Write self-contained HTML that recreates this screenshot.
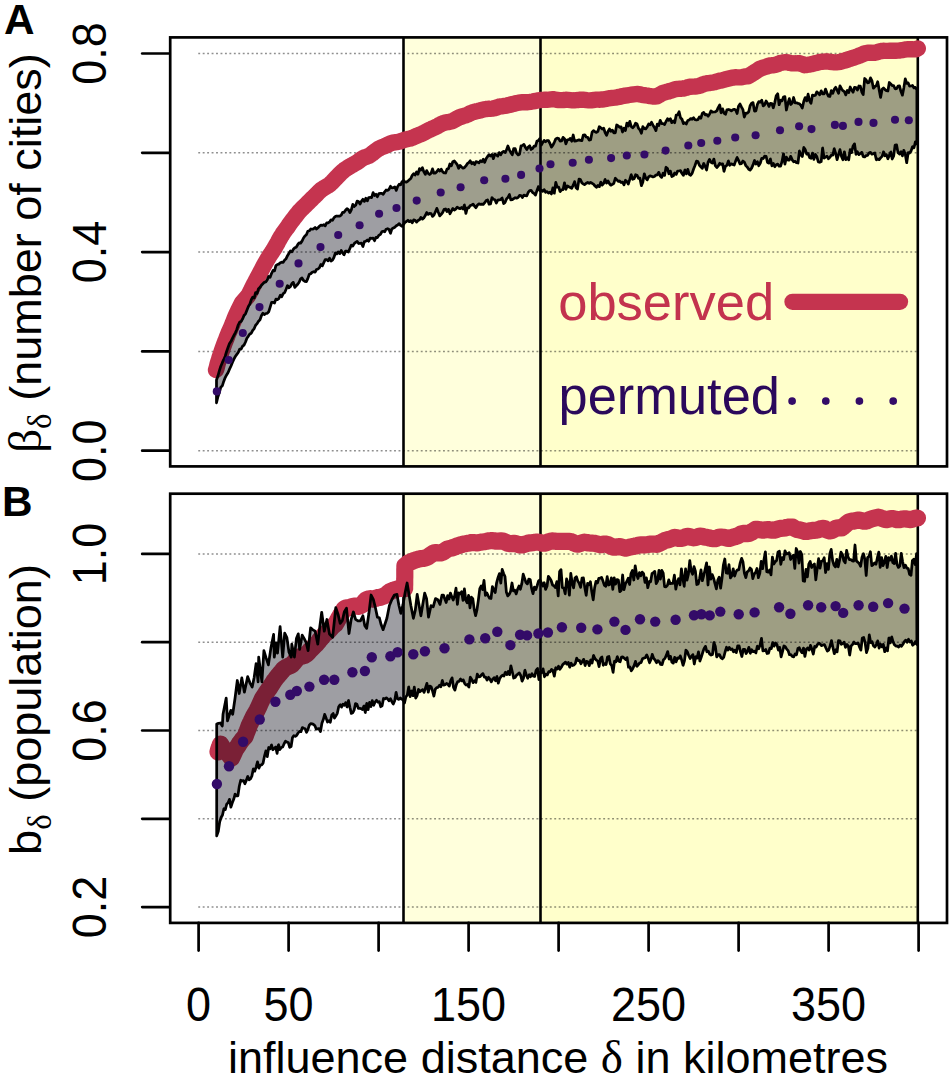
<!DOCTYPE html>
<html><head><meta charset="utf-8"><title>Figure</title>
<style>
html,body{margin:0;padding:0;background:#fff;}
body{width:951px;height:1078px;overflow:hidden;}
svg{display:block;}
text{font-family:"Liberation Sans",sans-serif;}
.sym{font-family:"Liberation Serif",serif;}
</style></head>
<body>
<svg width="951" height="1078" viewBox="0 0 951 1078">
<rect x="0" y="0" width="951" height="1078" fill="#ffffff"/>
<g id="panelA">
<rect x="403.5" y="37.4" width="514.3" height="429.0" fill="#ffffdc"/>
<rect x="540.5" y="37.4" width="377.3" height="429.0" fill="#ffffcb"/>
<line x1="198.25" y1="450.7" x2="917.8" y2="450.7" stroke="rgba(0,0,0,0.44)" stroke-width="1.5" stroke-dasharray="1.9 2.55"/>
<line x1="198.25" y1="351.4" x2="917.8" y2="351.4" stroke="rgba(0,0,0,0.44)" stroke-width="1.5" stroke-dasharray="1.9 2.55"/>
<line x1="198.25" y1="252.1" x2="917.8" y2="252.1" stroke="rgba(0,0,0,0.44)" stroke-width="1.5" stroke-dasharray="1.9 2.55"/>
<line x1="198.25" y1="152.8" x2="917.8" y2="152.8" stroke="rgba(0,0,0,0.44)" stroke-width="1.5" stroke-dasharray="1.9 2.55"/>
<line x1="198.25" y1="53.5" x2="917.8" y2="53.5" stroke="rgba(0,0,0,0.44)" stroke-width="1.5" stroke-dasharray="1.9 2.55"/>
<line x1="403.5" y1="37.4" x2="403.5" y2="466.4" stroke="#000" stroke-width="2.6"/>
<line x1="540.5" y1="37.4" x2="540.5" y2="466.4" stroke="#000" stroke-width="2.6"/>
<line x1="917.8" y1="37.4" x2="917.8" y2="466.4" stroke="#000" stroke-width="2.6"/>
<polyline points="216.0,370.0 216.6,368.2 217.1,366.1 217.6,364.0 218.2,361.9 218.9,359.9 219.5,357.8 220.2,355.8 220.9,353.8 221.5,351.7 222.2,349.7 222.9,347.7 223.6,345.8 224.3,343.9 225.0,342.0 225.8,340.1 226.5,338.3 227.2,336.4 227.9,334.6 228.6,332.9 229.4,331.1 230.2,329.3 231.0,327.5 231.8,325.7 232.5,323.8 233.3,321.9 234.1,319.9 234.9,317.9 235.7,315.9 236.6,313.9 237.5,312.0 238.4,310.1 239.3,308.2 240.2,306.4 241.1,304.6 242.0,302.9 243.3,301.4 244.6,299.9 245.9,298.4 247.2,296.9 248.5,295.2 249.5,293.3 250.5,291.4 251.4,289.5 252.4,287.5 253.4,285.5 254.4,283.5 255.3,281.8 256.2,280.1 257.1,278.3 258.0,276.7 258.9,275.0 259.8,273.3 260.7,271.6 261.7,269.7 262.6,267.9 263.6,266.1 264.6,264.3 265.5,262.6 266.5,260.9 267.5,259.2 268.5,257.6 269.4,256.0 270.4,254.5 271.5,252.9 272.5,251.3 273.6,249.7 274.7,247.9 275.7,246.1 276.8,244.2 277.9,242.2 278.9,240.2 280.0,238.2 281.1,236.4 282.2,234.7 283.2,233.0 284.3,231.5 285.4,230.0 286.5,228.5 287.6,227.1 288.6,225.5 289.7,223.9 290.8,222.3 292.1,220.7 293.4,219.0 294.7,217.2 296.1,215.5 297.4,213.8 298.7,212.2 300.0,210.7 301.4,209.3 302.8,207.9 304.2,206.5 305.6,205.2 307.0,203.8 308.4,202.4 309.8,201.0 311.2,199.6 312.9,197.9 314.7,196.2 316.3,194.6 317.9,193.0 319.4,191.4 321.0,189.9 322.7,188.8 324.4,187.7 326.1,186.8 327.8,185.8 329.5,184.7 330.9,183.3 332.4,181.9 333.8,180.4 335.2,178.9 336.7,177.4 338.1,175.9 339.6,174.4 341.0,172.9 342.6,171.5 344.2,170.1 345.8,169.0 347.3,168.0 348.9,167.0 350.4,166.1 352.0,165.2 353.7,164.3 355.4,163.3 357.2,162.2 358.9,161.1 360.4,159.8 362.0,158.7 363.7,157.8 365.3,157.1 367.0,156.6 368.6,155.9 370.3,155.0 371.9,153.8 373.6,152.4 375.3,151.1 377.0,149.9 378.6,148.8 380.3,147.9 382.0,147.1 384.1,146.3 386.3,145.4 388.4,144.3 390.6,143.4 392.9,142.7 394.7,142.4 396.4,142.1 398.2,141.8 400.0,141.4 401.8,140.8 403.5,140.2 405.2,139.7 407.0,139.2 408.8,138.8 410.5,138.4 412.2,137.8 414.0,137.1 415.8,136.3 417.5,135.5 419.2,134.8 421.0,134.2 422.8,133.3 424.5,132.4 426.2,131.5 428.0,130.6 429.8,129.8 431.5,128.9 433.6,128.0 435.8,127.0 437.9,125.9 440.0,124.7 442.1,123.6 443.7,123.0 445.4,122.6 447.0,122.2 448.9,122.0 450.7,121.6 452.6,121.1 454.7,119.8 456.8,118.6 458.4,117.8 460.0,117.1 461.5,116.6 463.1,116.1 464.6,115.7 466.0,115.3 467.9,114.5 469.8,113.5 471.7,112.6 473.6,111.9 475.7,111.4 477.8,111.0 479.9,110.5 482.0,109.9 484.1,109.3 486.1,109.0 488.0,108.8 490.0,108.8 492.3,108.6 494.6,108.2 496.4,107.6 498.2,107.0 500.0,106.4 502.6,106.2 504.7,105.9 506.8,105.6 508.9,105.1 511.0,104.5 513.1,103.9 515.2,103.4 517.2,103.0 519.1,102.7 521.0,102.4 523.0,102.1 525.5,102.2 527.9,102.2 530.2,101.9 532.5,101.5 534.5,101.1 536.5,100.7 538.5,100.3 540.5,100.0 542.6,99.9 544.7,99.8 546.8,99.8 548.9,99.6 551.0,99.4 553.1,99.2 555.1,99.5 557.0,99.8 559.0,100.1 561.0,100.1 563.4,100.0 565.7,99.8 568.0,99.9 570.4,100.1 572.4,100.3 574.3,100.4 576.3,100.2 578.3,100.0 580.4,99.7 582.5,99.6 584.6,99.9 586.7,100.2 588.8,100.4 590.9,100.4 592.7,100.1 594.5,99.8 596.4,99.6 598.2,99.6 600.0,99.7 602.0,99.5 604.0,99.3 605.9,98.9 607.9,98.5 610.2,98.1 612.6,97.8 614.8,97.6 617.0,97.3 619.0,96.9 621.1,96.4 623.2,96.0 625.2,95.6 627.3,95.3 629.4,95.0 631.5,94.7 633.7,94.4 635.8,94.2 637.9,94.0 639.9,94.4 641.8,94.8 643.8,95.1 645.7,95.4 648.1,95.7 650.5,96.2 652.6,96.5 654.7,96.6 656.8,96.4 658.9,95.2 661.0,93.9 663.1,92.8 664.9,92.3 666.7,91.8 668.5,91.4 670.3,90.8 672.1,90.3 673.9,89.7 675.7,89.2 677.7,88.9 679.7,88.8 681.6,88.7 683.6,88.5 686.0,87.9 688.3,87.1 690.6,86.7 693.0,86.6 695.0,86.5 697.0,86.3 698.9,85.9 700.9,85.3 702.7,84.5 704.5,83.8 706.4,83.4 708.2,83.1 710.0,83.0 712.1,82.7 714.2,82.3 716.3,81.7 718.4,81.1 720.5,80.6 722.6,80.2 724.7,79.6 726.8,79.1 728.9,78.6 731.0,78.1 733.1,77.6 735.2,77.2 736.9,77.4 738.7,77.4 740.4,77.4 742.3,77.1 744.1,76.7 746.0,76.4 747.9,76.3 749.7,75.3 751.5,74.2 753.3,73.1 755.1,71.9 756.9,70.7 758.7,69.5 760.5,68.5 762.4,67.9 764.3,67.3 766.2,66.7 768.1,66.0 770.0,65.5 771.5,65.3 773.1,65.3 774.8,64.9 776.5,64.5 778.3,63.9 780.0,63.1 781.9,62.7 783.8,62.3 785.7,62.1 787.9,62.4 790.0,63.0 792.1,63.3 794.1,63.4 796.2,63.3 798.3,63.1 800.4,63.6 802.5,64.3 804.6,65.2 806.7,65.0 808.8,64.7 810.9,64.3 812.7,63.8 814.5,63.3 816.4,62.9 818.2,62.5 820.0,61.9 822.0,61.8 824.0,61.6 826.0,61.4 828.0,61.5 830.0,61.8 832.6,62.2 834.5,62.4 836.3,62.3 838.1,62.1 840.0,61.8 841.7,61.3 843.5,60.8 845.2,60.4 847.6,59.6 850.0,58.8 852.0,58.2 854.0,57.6 855.9,56.9 857.9,56.2 859.7,55.5 861.5,54.7 863.3,53.9 865.1,53.3 866.9,52.9 868.7,52.7 870.5,52.7 872.4,52.9 874.3,52.8 876.2,52.5 878.1,51.9 880.0,51.3 881.5,51.0 883.1,50.8 885.4,50.9 887.7,50.9 890.0,50.8 891.9,50.7 893.8,50.7 895.7,50.7 897.9,50.6 900.0,50.5 902.1,50.2 904.1,49.8 906.2,49.4 908.3,49.2 910.2,49.2 912.1,49.3 914.0,49.4 915.9,49.3 917.8,48.4" fill="none" stroke="#c5344f" stroke-width="16.4" stroke-linecap="round" stroke-linejoin="round"/>
<polygon points="216.5,380.0 217.9,376.0 219.4,370.6 220.8,366.2 222.3,362.7 223.7,359.7 225.2,356.2 226.6,351.5 228.1,347.3 229.5,343.5 231.0,341.3 232.4,338.3 233.9,335.4 235.3,332.8 236.8,329.5 238.2,325.0 239.7,322.0 241.1,321.5 242.6,318.9 244.0,315.5 245.5,313.8 246.9,310.2 248.4,306.4 249.8,304.1 251.3,299.7 252.7,297.2 254.2,297.9 255.6,292.6 257.1,293.3 258.5,288.7 260.0,287.4 261.4,285.2 262.9,283.7 264.3,282.3 265.8,281.9 267.2,279.9 268.7,276.4 270.1,277.3 271.6,273.3 273.0,270.5 274.5,270.9 275.9,265.6 277.4,264.5 278.8,264.1 280.3,262.8 281.7,262.2 283.2,262.4 284.6,260.1 286.1,258.7 287.5,255.7 289.0,253.2 290.4,251.0 291.9,251.8 293.3,249.3 294.8,247.8 296.2,247.2 297.7,244.7 299.1,242.9 300.6,243.1 302.0,241.1 303.5,238.0 304.9,236.0 306.4,234.7 307.8,231.3 309.3,230.8 310.7,229.0 312.2,229.1 313.6,228.8 315.1,227.5 316.5,229.0 318.0,227.7 319.4,226.3 320.9,225.1 322.3,225.4 323.8,224.7 325.2,225.8 326.7,222.9 328.1,222.9 329.6,221.9 331.0,219.8 332.5,220.3 333.9,217.8 335.4,216.4 336.8,216.0 338.3,216.1 339.7,216.2 341.2,215.2 342.6,212.4 344.1,212.3 345.5,210.3 347.0,208.7 348.4,209.7 349.9,212.6 351.3,209.8 352.8,204.4 354.2,206.5 355.7,205.3 357.1,201.2 358.6,201.6 360.0,204.1 361.5,201.1 362.9,199.3 364.4,201.3 365.8,198.3 367.3,200.9 368.7,197.5 370.2,197.4 371.6,197.6 373.1,192.6 374.5,195.5 376.0,194.3 377.4,196.8 378.9,193.5 380.3,193.3 381.8,193.4 383.2,194.3 384.7,191.8 386.1,190.0 387.6,190.3 389.0,189.3 390.5,186.3 391.9,187.9 393.4,187.7 394.8,186.9 396.3,190.4 397.7,186.4 399.2,184.2 400.6,184.8 402.1,181.7 403.5,180.4 405.0,182.0 406.4,182.2 407.9,181.1 409.3,179.7 410.8,178.5 412.2,175.4 413.7,173.7 415.1,175.0 416.6,171.9 418.0,174.2 419.5,168.6 420.9,170.1 422.4,167.7 423.8,171.7 425.3,174.4 426.7,170.6 428.2,173.4 429.6,174.5 431.1,173.2 432.5,168.9 434.0,173.2 435.4,173.1 436.9,171.5 438.3,169.5 439.8,171.1 441.2,169.2 442.7,171.9 444.1,172.9 445.6,173.0 447.0,169.1 448.5,168.7 449.9,164.0 451.4,165.8 452.8,161.7 454.3,161.0 455.7,162.6 457.2,164.6 458.6,168.3 460.1,165.4 461.5,167.0 463.0,168.1 464.4,167.6 465.9,165.9 467.3,163.7 468.8,162.6 470.2,160.8 471.7,163.7 473.1,162.4 474.6,164.6 476.0,161.7 477.5,162.1 478.9,162.9 480.4,160.8 481.8,161.7 483.3,159.3 484.7,162.3 486.2,158.5 487.6,156.5 489.1,154.7 490.5,156.1 492.0,154.5 493.4,158.7 494.9,153.9 496.3,155.0 497.8,156.1 499.2,152.6 500.7,154.8 502.1,152.4 503.6,151.3 505.0,152.5 506.5,149.9 507.9,146.0 509.4,149.8 510.8,152.4 512.3,154.8 513.7,148.6 515.2,148.6 516.6,153.1 518.1,154.9 519.5,154.2 521.0,145.9 522.4,145.5 523.9,144.4 525.3,147.2 526.8,149.5 528.2,147.0 529.7,145.8 531.1,149.5 532.6,148.4 534.0,146.2 535.5,146.1 536.9,141.3 538.4,140.5 539.8,138.7 541.3,145.0 542.7,142.5 544.2,140.4 545.6,141.7 547.1,140.5 548.5,140.7 550.0,143.5 551.4,147.1 552.9,145.1 554.3,142.3 555.8,138.9 557.2,138.1 558.7,138.5 560.1,141.1 561.6,140.9 563.0,137.4 564.5,138.7 565.9,143.8 567.4,139.8 568.8,139.7 570.3,138.4 571.7,141.2 573.2,135.0 574.6,141.2 576.1,140.9 577.5,140.3 579.0,139.9 580.4,140.4 581.9,140.7 583.3,135.0 584.8,134.8 586.2,137.0 587.7,137.4 589.2,140.1 590.6,139.7 592.1,132.2 593.5,130.6 595.0,131.8 596.4,132.4 597.9,131.3 599.3,126.7 600.8,127.8 602.2,129.0 603.7,128.3 605.1,132.5 606.6,135.3 608.0,131.5 609.5,129.0 610.9,131.3 612.4,130.1 613.8,132.8 615.3,132.8 616.7,125.0 618.2,126.0 619.6,127.4 621.1,126.9 622.5,132.0 624.0,128.2 625.4,130.6 626.9,123.1 628.3,126.0 629.8,121.4 631.2,126.4 632.7,127.8 634.1,126.3 635.6,123.2 637.0,124.0 638.5,128.3 639.9,129.7 641.4,133.2 642.8,126.7 644.3,128.6 645.7,128.8 647.2,126.8 648.6,124.0 650.1,124.9 651.5,122.3 653.0,125.2 654.4,127.5 655.9,130.6 657.3,124.1 658.8,125.5 660.2,120.3 661.7,123.6 663.1,123.6 664.6,124.5 666.0,121.5 667.5,118.8 668.9,120.3 670.4,118.8 671.8,122.7 673.3,120.9 674.7,122.7 676.2,115.1 677.6,114.9 679.1,111.8 680.5,117.7 682.0,119.3 683.4,123.6 684.9,122.7 686.3,124.0 687.8,120.5 689.2,120.0 690.7,118.6 692.1,119.3 693.6,117.8 695.0,119.7 696.5,120.0 697.9,119.7 699.4,116.9 700.8,118.3 702.3,113.3 703.7,112.4 705.2,114.9 706.6,114.5 708.1,116.2 709.5,114.2 711.0,110.9 712.4,112.1 713.9,112.0 715.3,111.8 716.8,110.9 718.2,107.6 719.7,104.9 721.1,112.8 722.6,108.9 724.0,113.1 725.5,114.3 726.9,109.9 728.4,109.5 729.8,109.9 731.3,110.9 732.7,109.8 734.2,109.3 735.6,110.0 737.1,113.5 738.5,106.3 740.0,104.0 741.4,106.9 742.9,109.6 744.3,117.1 745.8,113.2 747.2,113.2 748.7,111.8 750.1,105.7 751.6,103.2 753.0,102.6 754.5,111.1 755.9,110.8 757.4,104.4 758.8,101.6 760.3,102.2 761.7,100.2 763.2,105.9 764.6,104.8 766.1,101.0 767.5,103.2 769.0,106.4 770.4,103.3 771.9,103.5 773.3,107.8 774.8,102.3 776.2,95.9 777.7,93.8 779.1,104.7 780.6,100.2 782.0,100.9 783.5,97.1 784.9,96.6 786.4,110.0 787.8,103.9 789.3,98.6 790.7,104.5 792.2,103.0 793.6,97.5 795.1,102.9 796.5,102.8 798.0,103.4 799.4,103.8 800.9,105.4 802.3,108.0 803.8,101.3 805.2,97.6 806.7,100.9 808.1,94.2 809.6,100.8 811.0,103.2 812.5,95.1 813.9,95.7 815.4,95.2 816.8,91.8 818.3,93.2 819.7,94.7 821.2,90.8 822.6,93.8 824.1,93.9 825.5,89.1 827.0,93.1 828.4,96.1 829.9,96.5 831.3,90.6 832.8,93.4 834.2,89.4 835.7,87.3 837.1,90.2 838.6,93.3 840.0,85.8 841.5,88.7 842.9,90.7 844.4,91.7 845.8,94.9 847.3,90.5 848.7,92.6 850.2,87.0 851.6,90.0 853.1,92.2 854.5,87.4 856.0,87.7 857.4,90.1 858.9,86.0 860.3,86.1 861.8,92.0 863.2,94.5 864.7,78.5 866.1,80.0 867.6,82.8 869.0,82.5 870.5,77.9 871.9,80.6 873.4,88.2 874.8,86.7 876.3,85.6 877.7,81.7 879.2,89.9 880.6,97.4 882.1,89.2 883.5,87.9 885.0,89.6 886.4,90.7 887.9,91.0 889.3,82.5 890.8,83.9 892.2,85.6 893.7,85.7 895.1,88.8 896.6,88.7 898.0,86.2 899.5,85.9 900.9,91.3 902.4,95.2 903.8,87.9 905.3,78.8 906.7,83.4 908.2,83.0 909.6,86.2 911.1,86.0 912.5,85.5 914.0,87.9 915.4,87.4 916.9,89.7 916.9,143.9 915.4,141.9 914.0,147.8 912.5,146.7 911.1,150.9 909.6,153.0 908.2,152.6 906.7,162.7 905.3,154.4 903.8,150.3 902.4,155.9 900.9,151.7 899.5,154.0 898.0,152.7 896.6,144.9 895.1,145.2 893.7,155.9 892.2,159.0 890.8,152.0 889.3,155.4 887.9,158.7 886.4,154.6 885.0,155.8 883.5,151.8 882.1,156.4 880.6,157.9 879.2,159.7 877.7,159.0 876.3,159.7 874.8,153.0 873.4,153.6 871.9,154.1 870.5,152.3 869.0,153.0 867.6,155.4 866.1,155.6 864.7,156.9 863.2,156.6 861.8,152.3 860.3,153.5 858.9,154.6 857.4,151.8 856.0,154.3 854.5,143.8 853.1,145.9 851.6,152.6 850.2,149.6 848.7,159.8 847.3,157.8 845.8,159.6 844.4,151.8 842.9,159.8 841.5,156.4 840.0,149.7 838.6,154.4 837.1,159.7 835.7,153.7 834.2,148.7 832.8,155.2 831.3,155.2 829.9,157.3 828.4,158.7 827.0,156.2 825.5,157.1 824.1,158.0 822.6,148.0 821.2,161.5 819.7,162.3 818.3,161.9 816.8,156.5 815.4,154.5 813.9,159.4 812.5,153.1 811.0,158.3 809.6,157.5 808.1,153.6 806.7,154.1 805.2,149.5 803.8,147.4 802.3,156.5 800.9,154.9 799.4,151.0 798.0,163.0 796.5,162.7 795.1,161.3 793.6,161.8 792.2,159.9 790.7,156.3 789.3,160.0 787.8,160.0 786.4,157.1 784.9,164.1 783.5,153.8 782.0,161.7 780.6,166.1 779.1,166.1 777.7,164.1 776.2,164.7 774.8,166.7 773.3,163.4 771.9,165.8 770.4,159.0 769.0,163.1 767.5,162.5 766.1,156.3 764.6,156.2 763.2,158.5 761.7,158.3 760.3,163.0 758.8,165.7 757.4,161.7 755.9,164.1 754.5,160.5 753.0,164.9 751.6,168.1 750.1,170.1 748.7,169.3 747.2,167.0 745.8,165.6 744.3,162.0 742.9,161.0 741.4,163.6 740.0,163.9 738.5,160.4 737.1,157.5 735.6,161.1 734.2,165.0 732.7,164.4 731.3,163.8 729.8,165.2 728.4,161.0 726.9,165.4 725.5,166.2 724.0,171.3 722.6,163.8 721.1,164.3 719.7,163.3 718.2,166.0 716.8,167.5 715.3,165.6 713.9,159.1 712.4,163.1 711.0,162.3 709.5,159.5 708.1,162.1 706.6,170.1 705.2,166.6 703.7,163.4 702.3,168.4 700.8,166.8 699.4,165.3 697.9,161.5 696.5,161.1 695.0,165.5 693.6,169.0 692.1,173.4 690.7,175.2 689.2,174.3 687.8,169.4 686.3,173.9 684.9,170.0 683.4,175.3 682.0,173.5 680.5,170.6 679.1,171.0 677.6,171.1 676.2,174.4 674.7,172.9 673.3,175.8 671.8,176.5 670.4,171.1 668.9,173.8 667.5,168.5 666.0,167.3 664.6,175.4 663.1,173.2 661.7,177.4 660.2,176.0 658.8,172.3 657.3,174.8 655.9,175.1 654.4,176.5 653.0,176.9 651.5,176.2 650.1,175.8 648.6,176.9 647.2,179.8 645.7,177.9 644.3,173.8 642.8,182.2 641.4,185.7 639.9,178.2 638.5,178.3 637.0,175.2 635.6,174.7 634.1,178.8 632.7,179.3 631.2,174.7 629.8,179.3 628.3,184.0 626.9,181.5 625.4,180.3 624.0,184.9 622.5,182.1 621.1,182.5 619.6,181.0 618.2,181.4 616.7,179.7 615.3,178.3 613.8,183.4 612.4,184.4 610.9,185.2 609.5,183.7 608.0,180.9 606.6,183.1 605.1,179.5 603.7,183.4 602.2,185.1 600.8,182.2 599.3,186.7 597.9,185.5 596.4,187.3 595.0,186.0 593.5,184.2 592.1,183.3 590.6,182.5 589.2,183.3 587.7,182.5 586.2,183.3 584.8,184.6 583.3,184.0 581.9,182.9 580.4,179.6 579.0,179.1 577.5,189.1 576.1,187.8 574.6,181.7 573.2,185.2 571.7,188.3 570.3,187.5 568.8,186.7 567.4,185.9 565.9,189.3 564.5,182.9 563.0,189.7 561.6,189.8 560.1,191.5 558.7,187.1 557.2,187.1 555.8,182.3 554.3,193.2 552.9,187.8 551.4,194.0 550.0,192.2 548.5,193.1 547.1,191.6 545.6,192.3 544.2,189.7 542.7,191.3 541.3,190.2 539.8,190.6 538.4,186.6 536.9,190.7 535.5,195.2 534.0,193.4 532.6,192.5 531.1,190.4 529.7,190.5 528.2,192.4 526.8,195.8 525.3,195.7 523.9,195.1 522.4,197.5 521.0,195.6 519.5,195.4 518.1,197.5 516.6,198.1 515.2,197.7 513.7,198.6 512.3,199.7 510.8,199.9 509.4,194.5 507.9,197.5 506.5,198.9 505.0,202.6 503.6,203.5 502.1,198.0 500.7,199.6 499.2,199.9 497.8,200.2 496.3,203.0 494.9,199.8 493.4,199.3 492.0,197.6 490.5,203.9 489.1,204.2 487.6,199.9 486.2,200.5 484.7,202.7 483.3,204.4 481.8,204.2 480.4,204.4 478.9,203.9 477.5,205.0 476.0,207.7 474.6,206.2 473.1,204.1 471.7,205.2 470.2,205.5 468.8,207.8 467.3,207.9 465.9,213.4 464.4,205.0 463.0,209.0 461.5,207.5 460.1,208.6 458.6,208.1 457.2,207.2 455.7,209.1 454.3,210.1 452.8,208.5 451.4,211.1 449.9,213.7 448.5,209.3 447.0,211.6 445.6,209.0 444.1,209.3 442.7,212.3 441.2,214.3 439.8,215.9 438.3,212.2 436.9,208.4 435.4,211.7 434.0,215.0 432.5,216.4 431.1,213.5 429.6,213.3 428.2,214.4 426.7,212.5 425.3,215.6 423.8,217.9 422.4,219.1 420.9,217.4 419.5,219.7 418.0,220.5 416.6,222.1 415.1,220.3 413.7,219.9 412.2,222.8 410.8,220.8 409.3,221.7 407.9,220.3 406.4,221.5 405.0,222.4 403.5,224.4 402.1,226.3 400.6,225.4 399.2,223.6 397.7,225.0 396.3,225.8 394.8,227.2 393.4,228.0 391.9,228.9 390.5,233.3 389.0,229.5 387.6,228.7 386.1,229.2 384.7,231.8 383.2,231.2 381.8,231.8 380.3,234.6 378.9,235.2 377.4,237.6 376.0,237.3 374.5,240.7 373.1,238.1 371.6,238.3 370.2,238.2 368.7,241.2 367.3,240.0 365.8,241.2 364.4,241.6 362.9,246.5 361.5,243.2 360.0,243.3 358.6,243.5 357.1,241.4 355.7,242.3 354.2,243.6 352.8,246.0 351.3,245.1 349.9,248.5 348.4,252.0 347.0,251.2 345.5,251.1 344.1,254.8 342.6,252.8 341.2,250.5 339.7,253.6 338.3,251.9 336.8,253.8 335.4,253.0 333.9,257.5 332.5,260.1 331.0,261.0 329.6,258.3 328.1,260.9 326.7,259.6 325.2,259.7 323.8,262.6 322.3,265.8 320.9,264.4 319.4,267.8 318.0,269.0 316.5,269.5 315.1,272.2 313.6,271.7 312.2,272.2 310.7,273.8 309.3,274.2 307.8,278.6 306.4,281.7 304.9,281.4 303.5,280.4 302.0,278.0 300.6,278.9 299.1,282.2 297.7,284.2 296.2,285.8 294.8,287.4 293.3,282.4 291.9,283.6 290.4,286.5 289.0,287.8 287.5,285.6 286.1,289.3 284.6,292.7 283.2,293.6 281.7,296.7 280.3,295.3 278.8,298.6 277.4,299.6 275.9,299.1 274.5,303.0 273.0,302.3 271.6,302.3 270.1,307.3 268.7,311.8 267.2,313.4 265.8,313.5 264.3,314.6 262.9,313.3 261.4,315.8 260.0,319.7 258.5,321.2 257.1,323.6 255.6,325.2 254.2,328.6 252.7,330.4 251.3,333.2 249.8,334.0 248.4,336.1 246.9,338.2 245.5,342.0 244.0,345.1 242.6,346.2 241.1,349.1 239.7,349.1 238.2,352.5 236.8,354.4 235.3,356.5 233.9,359.1 232.4,362.4 231.0,366.0 229.5,369.2 228.1,372.5 226.6,374.9 225.2,377.6 223.7,381.4 222.3,385.8 220.8,387.2 219.4,392.5 217.9,396.7 216.5,402.8" fill="rgba(0,0,12,0.38)" stroke="#000" stroke-width="2.75" stroke-linejoin="round"/>
<g fill="#330b68"><circle cx="216.8" cy="391.4" r="4.05"/><circle cx="228.7" cy="360.0" r="4.05"/><circle cx="242.8" cy="333.0" r="4.05"/><circle cx="259.5" cy="307.1" r="4.05"/><circle cx="279.7" cy="283.7" r="4.05"/><circle cx="298.5" cy="263.4" r="4.05"/><circle cx="320.5" cy="247.1" r="4.05"/><circle cx="338.2" cy="235.0" r="4.05"/><circle cx="359.6" cy="225.2" r="4.05"/><circle cx="379.1" cy="213.8" r="4.05"/><circle cx="396.5" cy="208.0" r="4.05"/><circle cx="416.7" cy="200.6" r="4.05"/><circle cx="440.7" cy="192.5" r="4.05"/><circle cx="460.6" cy="187.2" r="4.05"/><circle cx="484.2" cy="180.2" r="4.05"/><circle cx="505.4" cy="178.7" r="4.05"/><circle cx="521.1" cy="174.9" r="4.05"/><circle cx="539.5" cy="168.5" r="4.05"/><circle cx="550.5" cy="164.3" r="4.05"/><circle cx="572.7" cy="162.8" r="4.05"/><circle cx="588.9" cy="159.7" r="4.05"/><circle cx="611.1" cy="158.1" r="4.05"/><circle cx="626.8" cy="155.5" r="4.05"/><circle cx="644.4" cy="154.5" r="4.05"/><circle cx="665.6" cy="150.6" r="4.05"/><circle cx="688.3" cy="145.5" r="4.05"/><circle cx="701.2" cy="143.0" r="4.05"/><circle cx="717.3" cy="140.7" r="4.05"/><circle cx="735.2" cy="137.5" r="4.05"/><circle cx="755.6" cy="135.3" r="4.05"/><circle cx="780.0" cy="130.3" r="4.05"/><circle cx="799.1" cy="126.3" r="4.05"/><circle cx="811.5" cy="129.1" r="4.05"/><circle cx="834.9" cy="124.9" r="4.05"/><circle cx="842.9" cy="125.9" r="4.05"/><circle cx="858.5" cy="121.9" r="4.05"/><circle cx="873.5" cy="122.9" r="4.05"/><circle cx="895.0" cy="119.7" r="4.05"/><circle cx="908.8" cy="120.3" r="4.05"/></g>
<rect x="170.2" y="37.4" width="776.8" height="429.0" fill="none" stroke="#000" stroke-width="2.7"/>
</g>
<g id="panelB">
<rect x="403.5" y="493.7" width="514.3" height="429.2" fill="#ffffdc"/>
<rect x="540.5" y="493.7" width="377.3" height="429.2" fill="#ffffcb"/>
<line x1="198.25" y1="907.1" x2="917.8" y2="907.1" stroke="rgba(0,0,0,0.44)" stroke-width="1.5" stroke-dasharray="1.9 2.55"/>
<line x1="198.25" y1="818.8" x2="917.8" y2="818.8" stroke="rgba(0,0,0,0.44)" stroke-width="1.5" stroke-dasharray="1.9 2.55"/>
<line x1="198.25" y1="730.5" x2="917.8" y2="730.5" stroke="rgba(0,0,0,0.44)" stroke-width="1.5" stroke-dasharray="1.9 2.55"/>
<line x1="198.25" y1="642.2" x2="917.8" y2="642.2" stroke="rgba(0,0,0,0.44)" stroke-width="1.5" stroke-dasharray="1.9 2.55"/>
<line x1="198.25" y1="553.9" x2="917.8" y2="553.9" stroke="rgba(0,0,0,0.44)" stroke-width="1.5" stroke-dasharray="1.9 2.55"/>
<line x1="403.5" y1="493.7" x2="403.5" y2="922.9" stroke="#000" stroke-width="2.6"/>
<line x1="540.5" y1="493.7" x2="540.5" y2="922.9" stroke="#000" stroke-width="2.6"/>
<line x1="917.8" y1="493.7" x2="917.8" y2="922.9" stroke="#000" stroke-width="2.6"/>
<polyline points="218.0,752.0 218.6,749.4 219.2,747.6 219.9,745.9 220.5,744.2 221.9,746.4 223.2,748.5 224.6,750.2 226.0,751.8 227.4,753.1 228.8,754.6 230.1,756.3 231.5,758.2 232.3,756.5 233.1,754.8 233.9,753.1 234.7,751.3 235.5,749.5 236.8,747.6 238.2,745.6 239.5,743.4 240.9,741.5 242.2,739.7 243.6,738.1 245.0,736.6 245.7,734.8 246.4,732.9 247.2,731.0 247.9,729.1 248.6,727.2 249.3,725.3 250.1,723.6 251.0,721.8 251.8,720.0 252.7,718.3 253.5,716.5 254.4,715.0 255.3,713.5 256.2,711.9 257.1,710.2 258.0,708.4 258.9,706.5 259.8,704.5 260.6,702.6 261.5,700.7 262.4,698.8 263.3,697.2 264.3,695.7 265.2,694.3 266.1,693.0 267.1,691.6 268.0,690.2 269.1,688.7 270.1,687.2 271.1,685.5 272.2,683.8 273.2,682.2 274.3,680.5 275.5,679.0 276.6,677.5 277.8,676.1 279.0,674.6 280.4,673.0 281.8,671.4 283.2,669.6 284.6,668.4 286.1,667.4 287.6,666.7 289.0,666.0 290.5,665.5 292.0,664.5 293.5,662.9 295.0,661.1 296.5,659.2 298.0,657.7 299.5,656.8 301.0,656.3 302.5,656.0 303.9,655.6 305.4,654.9 306.9,653.9 308.4,652.2 309.9,650.4 311.5,648.8 313.0,647.3 314.4,645.9 315.9,644.5 317.4,642.9 318.8,641.2 319.9,639.7 321.1,638.3 322.2,637.0 323.4,635.7 324.5,634.3 326.3,632.9 328.2,631.3 330.0,629.4 331.3,627.9 332.6,626.5 334.0,625.3 335.3,624.3 336.2,622.7 337.2,621.1 338.1,619.4 339.1,617.7 340.0,616.1 341.0,614.3 342.1,612.6 343.1,610.9 344.1,609.2 346.0,607.9 348.0,607.9 350.0,607.4 352.0,606.7 354.0,606.0 356.0,606.0 358.0,606.3 360.0,605.8 362.0,604.8 363.3,603.1 364.7,601.4 366.0,600.0 367.5,599.3 369.0,598.9 370.5,598.6 373.0,599.1 375.5,598.5 377.2,597.8 378.9,597.3 380.6,597.3 382.4,596.6 384.2,595.9 386.0,594.8 387.6,593.6 389.1,592.3 390.7,591.2 392.6,590.5 394.4,589.9 396.3,589.2 398.6,588.6 401.0,588.2 402.8,588.4 404.6,588.7 404.6,586.7 404.7,584.8 404.7,582.9 404.7,581.0 404.7,579.1 404.8,577.2 404.8,575.3 404.8,573.4 404.8,571.5 404.8,569.5 404.9,567.6 404.9,565.7 406.6,564.5 408.3,563.0 410.2,562.2 412.2,561.3 414.7,560.3 416.5,559.7 418.2,559.2 420.0,558.8 421.7,558.5 423.5,558.4 425.5,557.9 427.5,557.2 429.5,555.8 431.3,554.5 433.2,553.3 435.0,552.6 436.9,552.6 438.7,553.0 440.5,553.0 442.4,552.4 444.2,551.3 446.0,550.0 447.7,549.0 449.5,548.5 451.2,548.1 453.0,547.6 455.0,546.9 456.9,546.0 458.9,545.4 461.1,544.8 463.3,544.0 465.5,543.8 467.8,543.2 470.0,542.9 471.8,542.5 473.6,542.6 475.7,542.8 477.8,542.8 479.9,542.4 482.0,542.0 484.1,541.8 486.3,541.4 488.4,540.9 490.3,540.7 492.3,540.7 494.2,540.8 496.4,541.2 498.6,541.1 500.9,540.9 503.1,541.1 506.0,542.4 508.0,543.3 509.9,543.7 511.9,543.6 513.9,543.4 515.8,543.6 517.8,544.3 520.0,545.0 522.2,545.0 524.5,544.3 526.7,543.6 528.4,543.1 530.0,542.9 531.7,542.8 533.3,542.6 535.0,542.3 536.9,542.1 538.9,542.3 540.8,542.8 542.8,543.2 544.7,543.2 546.6,542.7 548.4,541.9 550.3,541.2 552.1,540.9 554.0,541.0 555.8,541.3 557.7,541.4 559.5,541.4 561.3,541.4 563.1,541.4 564.9,541.4 566.7,541.3 568.6,541.3 570.5,541.5 572.3,542.1 574.2,543.1 576.1,543.9 578.0,544.1 580.2,543.5 582.4,542.6 584.5,542.2 586.7,542.5 588.9,543.0 591.0,543.2 593.1,543.2 595.2,543.4 597.3,544.0 599.4,544.6 601.5,544.7 603.6,544.2 605.5,544.1 607.4,544.4 609.4,545.3 611.3,546.3 613.2,547.1 615.1,547.2 616.8,546.9 618.4,546.7 620.2,546.7 622.0,547.1 623.9,547.7 625.7,548.2 627.6,547.7 629.4,547.2 631.2,546.8 633.1,546.4 635.2,546.1 637.2,545.6 639.3,545.0 641.4,544.8 643.5,544.9 645.7,544.8 647.8,544.5 649.6,544.2 651.4,544.2 653.3,544.1 655.1,544.2 657.0,544.3 658.8,543.7 660.7,542.7 662.5,541.7 664.7,540.6 666.8,540.0 669.0,539.5 670.9,538.9 672.8,538.1 674.7,537.4 676.8,537.8 678.9,538.4 681.0,538.5 683.2,537.9 685.3,536.9 687.4,536.4 689.5,536.6 691.6,537.4 693.7,537.8 695.8,537.5 697.9,536.7 700.0,536.2 702.1,536.3 704.2,536.9 706.0,537.2 707.9,537.6 709.7,538.0 711.5,538.5 713.4,538.7 715.2,538.6 717.0,538.1 718.9,537.3 721.0,537.0 723.0,537.2 725.1,537.7 727.1,538.2 729.2,538.5 730.8,537.9 732.4,537.3 734.0,536.9 735.8,536.5 737.5,535.9 739.2,535.0 741.0,534.0 743.0,533.4 745.0,533.4 747.0,533.6 749.1,533.4 751.1,532.5 753.1,531.0 755.7,529.4 757.7,529.3 759.7,529.8 761.7,530.1 763.7,530.1 765.7,529.7 768.1,529.5 770.5,529.9 772.5,530.2 774.4,530.1 776.3,529.6 778.3,528.9 780.6,528.4 782.9,528.2 785.2,527.9 787.0,527.4 788.9,527.1 790.7,527.0 792.5,527.1 794.8,528.5 797.0,529.5 798.9,529.8 800.9,530.2 802.8,530.8 804.7,531.5 806.6,531.5 808.5,531.1 810.5,530.7 812.4,530.4 814.3,530.3 816.2,530.2 817.9,529.8 819.5,529.1 821.4,528.5 823.2,528.4 825.1,528.9 826.9,529.9 828.8,530.8 830.6,530.9 832.4,530.3 834.2,529.3 836.0,528.3 837.9,527.8 839.7,527.8 841.5,528.0 843.0,526.9 844.5,525.6 846.0,524.2 847.5,523.0 848.9,522.0 851.5,521.2 853.5,521.1 855.5,520.6 857.5,520.2 859.6,520.2 861.6,520.6 863.6,521.1 865.2,521.2 866.7,520.9 868.7,520.1 870.6,519.3 872.5,518.6 874.5,518.1 876.5,517.6 878.4,517.2 880.5,517.8 882.6,518.7 884.7,519.4 886.8,519.6 888.9,519.1 891.0,518.6 893.1,518.7 895.0,519.1 896.9,519.6 898.8,519.7 900.7,519.4 902.6,519.0 904.5,518.8 906.1,518.9 907.8,519.3 909.7,519.6 911.7,519.4 913.6,518.7 915.6,518.0 917.5,518.0" fill="none" stroke="#c5344f" stroke-width="17.2" stroke-linecap="round" stroke-linejoin="round"/>
<polygon points="216.7,724.0 218.4,723.4 220.4,723.0 222.3,726.0 223.0,714.3 226.2,698.1 227.5,720.8 230.8,710.4 232.7,714.3 235.0,698.5 237.3,680.5 239.2,693.5 241.8,677.9 244.4,692.2 247.7,676.6 249.9,682.8 252.2,687.0 254.2,677.3 256.1,663.6 258.1,681.8 258.7,657.1 261.9,681.8 263.9,650.6 266.1,657.9 268.4,664.9 271.0,647.4 273.6,634.4 274.3,657.1 276.2,642.9 277.5,653.2 280.1,626.6 282.7,657.1 284.7,633.1 286.9,637.7 289.0,652.2 291.2,657.1 291.8,644.2 294.4,657.1 296.4,638.6 298.3,633.8 299.6,649.4 302.2,635.1 304.2,638.6 306.1,642.3 308.1,650.6 310.6,627.9 312.9,629.8 315.2,631.2 317.8,644.2 319.8,626.7 321.7,612.3 324.3,631.2 326.9,619.5 329.5,634.0 332.6,637.3 335.8,607.6 338.0,614.1 340.2,623.4 342.3,620.7 344.4,611.6 346.5,608.2 349.0,633.5 351.2,619.3 353.4,612.0 355.6,619.4 357.9,620.9 360.4,620.9 362.9,615.8 364.8,625.7 366.7,628.4 368.9,613.3 371.1,595.0 373.3,599.4 375.5,608.2 377.4,617.1 379.3,617.7 381.2,624.8 383.1,629.7 386.9,618.3 389.4,605.5 391.9,599.4 394.4,595.0 397.0,594.4 398.9,605.2 400.8,613.3 402.9,605.2 405.0,593.2 407.1,583.0 410.9,605.7 413.4,618.3 415.3,610.1 417.2,594.4 420.9,615.8 422.8,604.2 424.7,593.1 426.6,598.8 428.5,617.1 431.0,605.7 433.2,606.9 435.5,598.6 437.8,599.7 440.0,604.4 442.0,595.0 443.4,595.0 444.8,599.0 446.2,602.5 447.6,595.7 449.0,599.1 450.4,593.1 451.8,596.8 453.2,600.0 454.6,595.9 456.0,588.2 457.4,604.4 458.8,592.9 460.2,593.7 461.6,591.7 463.0,600.4 464.4,588.8 465.8,600.2 467.2,602.9 468.6,595.3 470.0,607.8 471.4,597.2 472.8,598.6 474.2,609.4 475.6,615.7 477.0,609.6 478.4,599.9 479.8,588.6 481.2,585.9 482.6,589.6 484.0,580.4 485.4,595.3 486.8,592.9 488.2,595.9 489.6,598.2 491.0,598.5 492.4,586.6 493.8,589.8 495.2,592.6 496.6,582.8 498.0,577.6 499.4,573.6 500.8,583.1 502.2,569.4 503.6,573.5 505.0,576.5 506.4,592.3 507.8,595.9 509.2,594.3 510.6,591.3 512.0,583.0 513.4,590.9 514.8,590.3 516.2,593.9 517.6,589.2 519.0,586.0 520.4,589.2 521.8,583.7 523.2,574.1 524.6,578.4 526.0,582.6 527.4,583.9 528.8,579.1 530.2,579.5 531.6,588.4 533.0,593.6 534.4,587.1 535.8,589.6 537.2,585.5 538.6,580.9 540.0,580.0 541.4,582.9 542.8,586.0 544.2,582.7 545.6,589.4 547.0,586.2 548.4,576.3 549.8,578.2 551.2,580.7 552.6,585.0 554.0,585.9 555.4,587.5 556.8,581.7 558.2,595.9 559.6,571.5 561.0,569.6 562.4,587.7 563.8,588.0 565.2,593.8 566.6,578.9 568.0,583.0 569.4,595.2 570.8,573.4 572.2,583.0 573.6,587.9 575.0,578.1 576.4,576.8 577.8,581.1 579.2,583.2 580.6,587.4 582.0,578.1 583.4,577.9 584.8,587.5 586.2,595.3 587.6,583.3 589.0,584.8 590.4,581.7 591.8,591.8 593.2,599.8 594.6,587.9 596.0,581.3 597.4,583.0 598.8,578.4 600.2,578.1 601.6,577.4 603.0,581.1 604.4,585.4 605.8,586.2 607.2,576.7 608.6,585.0 610.0,584.3 611.4,577.9 612.8,589.3 614.2,577.8 615.6,584.2 617.0,579.6 618.4,580.1 619.8,591.6 621.2,590.4 622.6,575.0 624.0,589.6 625.4,583.9 626.8,581.5 628.2,578.3 629.6,584.5 631.0,573.5 632.4,570.5 633.8,580.0 635.2,565.8 636.6,574.2 638.0,578.5 639.4,572.7 640.8,575.7 642.2,572.1 643.6,573.7 645.0,582.4 646.4,577.9 647.8,587.7 649.2,581.7 650.6,581.8 652.0,573.7 653.4,572.6 654.8,571.4 656.2,583.7 657.6,581.0 659.0,570.3 660.4,579.1 661.8,570.4 663.2,573.2 664.6,586.6 666.0,586.9 667.4,585.4 668.8,579.9 670.2,583.7 671.6,583.4 673.0,583.3 674.4,575.2 675.8,589.2 677.2,582.3 678.6,578.7 680.0,584.9 681.4,568.8 682.8,578.4 684.2,586.3 685.6,568.9 687.0,580.2 688.4,574.1 689.8,560.7 691.2,571.1 692.6,574.3 694.0,566.7 695.4,571.2 696.8,584.5 698.2,583.9 699.6,578.3 701.0,569.9 702.4,580.7 703.8,575.2 705.2,569.1 706.6,562.9 708.0,585.0 709.4,567.0 710.8,579.1 712.2,574.6 713.6,578.2 715.0,583.6 716.4,588.8 717.8,580.1 719.2,577.2 720.6,588.2 722.0,578.3 723.4,565.0 724.8,559.0 726.2,572.9 727.6,573.3 729.0,564.6 730.4,577.9 731.8,576.0 733.2,568.8 734.6,576.1 736.0,571.8 737.4,569.8 738.8,569.8 740.2,562.8 741.6,558.3 743.0,562.1 744.4,573.2 745.8,577.6 747.2,571.8 748.6,570.8 750.0,568.0 751.4,569.2 752.8,578.6 754.2,574.0 755.6,572.5 757.0,568.5 758.4,577.7 759.8,573.3 761.2,561.4 762.6,568.7 764.0,559.5 765.4,551.8 766.8,571.8 768.2,572.2 769.6,570.0 771.0,574.9 772.4,557.1 773.8,564.0 775.2,561.7 776.6,560.4 778.0,551.9 779.4,551.3 780.8,564.3 782.2,557.6 783.6,559.6 785.0,550.8 786.4,554.0 787.8,553.7 789.2,552.7 790.6,559.5 792.0,556.5 793.4,555.2 794.8,568.3 796.2,548.5 797.6,551.7 799.0,563.1 800.4,551.5 801.8,554.6 803.2,580.9 804.6,581.3 806.0,569.4 807.4,576.9 808.8,564.2 810.2,561.5 811.6,567.5 813.0,565.2 814.4,564.0 815.8,579.9 817.2,568.9 818.6,558.7 820.0,568.1 821.4,561.3 822.8,560.9 824.2,557.8 825.6,572.5 827.0,563.7 828.4,569.3 829.8,553.8 831.2,549.4 832.6,560.5 834.0,565.1 835.4,566.9 836.8,559.4 838.2,566.8 839.6,560.3 841.0,552.2 842.4,554.4 843.8,560.8 845.2,562.8 846.6,550.4 848.0,556.8 849.4,559.7 850.8,559.6 852.2,560.8 853.6,561.1 855.0,545.0 856.4,560.9 857.8,562.1 859.2,563.5 860.6,566.3 862.0,557.3 863.4,553.7 864.8,559.2 866.2,575.5 867.6,557.5 869.0,556.3 870.4,551.7 871.8,565.7 873.2,564.6 874.6,562.9 876.0,564.3 877.4,557.7 878.8,552.1 880.2,567.4 881.6,557.6 883.0,565.7 884.4,562.1 885.8,556.4 887.2,567.5 888.6,557.7 890.0,560.0 891.4,556.1 892.8,562.6 894.2,563.5 895.6,553.4 897.0,564.5 898.4,567.4 899.8,566.1 901.2,553.3 902.6,561.6 904.0,567.7 905.4,565.1 906.8,568.1 908.2,568.5 909.6,574.4 911.0,575.3 912.4,560.5 913.8,559.2 915.2,564.6 916.6,553.6 916.9,644.5 915.5,641.6 914.1,644.0 912.7,645.2 911.3,641.0 909.9,642.0 908.5,639.3 907.1,642.2 905.7,640.1 904.3,641.7 902.9,644.3 901.5,646.3 900.1,645.2 898.7,647.0 897.3,646.1 895.9,646.1 894.5,644.8 893.1,641.8 891.7,637.0 890.3,642.9 888.9,638.0 887.5,650.8 886.1,648.0 884.7,651.7 883.3,644.3 881.9,646.9 880.5,644.2 879.1,648.1 877.7,640.9 876.3,644.8 874.9,647.0 873.5,645.9 872.1,641.7 870.7,642.5 869.3,634.9 867.9,648.4 866.5,652.6 865.1,642.5 863.7,637.5 862.3,638.0 860.9,650.1 859.5,646.9 858.1,643.1 856.7,643.6 855.3,643.7 853.9,642.0 852.5,644.6 851.1,645.9 849.7,655.0 848.3,646.1 846.9,644.5 845.5,647.3 844.1,642.1 842.7,643.6 841.3,644.3 839.9,640.8 838.5,640.7 837.1,651.9 835.7,649.8 834.3,653.7 832.9,647.5 831.5,640.6 830.1,645.9 828.7,650.1 827.3,651.0 825.9,648.0 824.5,644.7 823.1,644.8 821.7,645.7 820.3,644.2 818.9,643.1 817.5,644.5 816.1,647.0 814.7,646.5 813.3,654.1 811.9,649.3 810.5,645.4 809.1,650.1 807.7,648.0 806.3,649.3 804.9,656.4 803.5,648.1 802.1,652.8 800.7,651.0 799.3,647.7 797.9,648.5 796.5,654.8 795.1,654.0 793.7,656.9 792.3,656.5 790.9,654.6 789.5,654.7 788.1,650.6 786.7,649.1 785.3,646.8 783.9,646.0 782.5,651.7 781.1,656.9 779.7,647.4 778.3,650.0 776.9,644.4 775.5,643.0 774.1,646.1 772.7,642.6 771.3,648.6 769.9,648.1 768.5,653.2 767.1,653.5 765.7,649.5 764.3,650.7 762.9,650.9 761.5,638.4 760.1,645.1 758.7,648.8 757.3,646.3 755.9,653.0 754.5,651.2 753.1,651.6 751.7,649.7 750.3,653.3 748.9,647.3 747.5,651.3 746.1,653.6 744.7,649.3 743.3,649.3 741.9,656.5 740.5,651.9 739.1,645.9 737.7,645.9 736.3,652.6 734.9,650.2 733.5,651.8 732.1,648.9 730.7,649.5 729.3,647.4 727.9,650.0 726.5,647.3 725.1,652.0 723.7,657.3 722.3,658.8 720.9,657.6 719.5,654.6 718.1,654.7 716.7,656.9 715.3,646.2 713.9,642.5 712.5,654.4 711.1,655.1 709.7,654.2 708.3,651.2 706.9,651.8 705.5,646.3 704.1,648.4 702.7,652.5 701.3,657.1 699.9,661.0 698.5,651.9 697.1,658.1 695.7,656.7 694.3,664.0 692.9,654.7 691.5,656.2 690.1,658.5 688.7,655.5 687.3,651.7 685.9,650.1 684.5,660.6 683.1,665.3 681.7,660.2 680.3,655.8 678.9,658.3 677.5,658.0 676.1,661.9 674.7,657.3 673.3,663.2 671.9,662.1 670.5,656.3 669.1,659.0 667.7,651.6 666.3,655.4 664.9,658.5 663.5,659.7 662.1,664.7 660.7,664.5 659.3,661.8 657.9,660.7 656.5,662.7 655.1,660.0 653.7,658.4 652.3,654.4 650.9,659.6 649.5,662.7 648.1,658.0 646.7,654.9 645.3,657.7 643.9,658.1 642.5,658.8 641.1,662.6 639.7,662.9 638.3,664.8 636.9,666.3 635.5,661.4 634.1,665.7 632.7,668.7 631.3,670.8 629.9,667.0 628.5,667.2 627.1,657.7 625.7,659.6 624.3,658.2 622.9,656.9 621.5,657.1 620.1,661.8 618.7,661.0 617.3,656.7 615.9,661.8 614.5,661.2 613.1,672.3 611.7,665.5 610.3,663.9 608.9,656.5 607.5,657.1 606.1,664.6 604.7,663.6 603.3,665.2 601.9,657.0 600.5,658.6 599.1,666.6 597.7,660.9 596.3,660.1 594.9,658.5 593.5,655.4 592.1,663.1 590.7,660.0 589.3,665.7 587.9,661.7 586.5,661.3 585.1,665.5 583.7,659.3 582.3,661.5 580.9,663.8 579.5,660.5 578.1,660.7 576.7,658.1 575.3,663.6 573.9,665.0 572.5,665.6 571.1,663.2 569.7,667.2 568.3,662.5 566.9,664.1 565.5,662.1 564.1,663.4 562.7,664.6 561.3,667.3 559.9,669.3 558.5,666.3 557.1,669.0 555.7,667.8 554.3,676.2 552.9,670.4 551.5,669.5 550.1,671.9 548.7,671.7 547.3,674.9 545.9,674.2 544.5,676.7 543.1,668.9 541.7,672.6 540.3,672.1 538.9,679.6 537.5,668.5 536.1,670.3 534.7,676.5 533.3,676.2 531.9,673.7 530.5,676.8 529.1,674.8 527.7,678.3 526.3,674.9 524.9,670.2 523.5,678.1 522.1,681.1 520.7,675.5 519.3,672.9 517.9,674.1 516.5,675.2 515.1,677.5 513.7,678.1 512.3,671.8 510.9,665.8 509.5,674.7 508.1,671.5 506.7,674.6 505.3,672.3 503.9,676.0 502.5,675.2 501.1,676.5 499.7,678.6 498.3,683.1 496.9,676.5 495.5,680.8 494.1,677.7 492.7,679.1 491.3,681.9 489.9,679.1 488.5,677.3 487.1,680.1 485.7,677.1 484.3,677.1 482.9,673.6 481.5,674.8 480.1,676.6 478.7,676.9 477.3,674.1 475.9,682.5 474.5,680.8 473.1,682.6 471.7,679.5 470.3,677.1 468.9,687.0 467.5,684.5 466.1,685.1 464.7,683.6 463.3,679.9 461.9,680.9 460.5,679.0 459.1,681.4 457.7,681.6 456.3,684.6 454.9,690.2 453.5,687.4 452.1,677.9 450.7,680.7 449.3,686.1 447.9,684.3 446.5,683.5 445.1,684.7 443.7,685.1 442.3,680.5 440.9,686.8 439.5,685.3 438.1,687.3 436.7,687.6 435.3,689.2 433.9,696.1 432.5,690.8 431.1,686.7 429.7,686.1 428.3,692.2 426.9,683.3 425.5,687.9 424.1,692.4 422.7,689.6 421.3,690.4 419.9,691.7 418.5,689.4 417.1,695.5 415.7,698.1 414.3,687.1 412.9,695.7 411.5,691.0 410.1,696.6 408.7,687.0 407.3,695.0 405.9,696.8 404.5,703.0 403.1,699.8 401.7,699.3 400.3,697.9 398.9,699.4 397.5,698.8 396.1,692.3 394.7,700.7 393.3,704.1 391.9,701.7 390.5,698.8 389.1,700.8 387.7,699.1 386.3,697.8 384.9,698.8 383.5,698.5 382.1,705.8 380.7,706.7 379.3,701.7 377.9,702.1 376.5,700.3 375.1,702.0 373.7,705.2 372.3,700.6 370.9,706.6 369.5,702.4 368.1,709.7 366.7,703.4 365.3,712.5 363.9,706.0 362.5,709.5 361.1,708.6 359.7,708.4 358.3,708.3 356.9,704.2 355.5,703.6 354.1,710.2 352.7,712.8 351.3,713.4 349.9,707.3 348.5,700.5 347.1,707.0 345.7,702.6 344.3,705.3 342.9,704.2 341.5,707.1 340.1,704.8 338.7,706.8 337.3,713.3 335.9,715.8 334.5,718.1 333.1,713.5 331.7,715.2 330.3,722.3 328.9,720.8 327.5,722.1 326.1,718.1 324.7,714.4 323.3,719.6 321.9,723.3 320.5,731.6 319.1,728.7 317.7,728.9 316.3,729.1 314.9,725.8 313.5,724.4 312.1,723.9 310.7,723.6 309.3,725.2 307.9,729.6 306.5,732.3 305.1,728.8 303.7,728.3 302.3,727.6 300.9,731.7 299.5,731.3 298.1,733.0 296.7,735.3 295.3,736.3 293.9,735.7 292.5,737.5 291.1,746.5 289.7,747.3 288.3,742.5 286.9,742.1 285.5,741.3 284.1,743.7 282.7,747.0 281.3,747.5 279.9,749.6 278.5,744.7 277.1,753.4 275.7,747.0 274.3,748.4 272.9,749.8 271.5,745.0 270.1,748.9 268.7,747.5 267.3,756.6 265.9,750.9 264.5,756.0 263.1,763.1 261.7,764.9 260.3,765.2 258.9,768.1 257.5,761.8 256.1,767.1 254.7,771.2 253.3,768.9 251.9,776.0 250.5,778.9 249.1,779.7 247.7,776.4 246.3,780.4 244.9,783.7 243.5,780.6 242.1,781.0 240.7,780.3 239.3,786.2 237.9,795.8 236.5,795.9 235.1,794.1 233.7,799.3 232.3,802.8 230.9,807.2 229.5,799.3 228.1,802.7 226.7,804.1 225.3,809.7 223.9,808.7 222.5,815.0 221.1,817.5 219.7,821.9 218.3,831.3 216.7,835.9" fill="rgba(0,0,12,0.38)" stroke="#000" stroke-width="2.75" stroke-linejoin="round"/>
<g fill="#330b68"><circle cx="216.9" cy="784.0" r="5.2"/><circle cx="229.0" cy="766.3" r="5.2"/><circle cx="243.1" cy="741.8" r="5.2"/><circle cx="259.7" cy="719.5" r="5.2"/><circle cx="275.4" cy="701.7" r="5.2"/><circle cx="290.3" cy="694.7" r="5.2"/><circle cx="296.8" cy="691.0" r="5.2"/><circle cx="309.4" cy="686.6" r="5.2"/><circle cx="324.1" cy="679.8" r="5.2"/><circle cx="334.3" cy="679.8" r="5.2"/><circle cx="352.4" cy="672.2" r="5.2"/><circle cx="364.9" cy="671.0" r="5.2"/><circle cx="371.8" cy="657.3" r="5.2"/><circle cx="390.4" cy="656.3" r="5.2"/><circle cx="397.6" cy="652.2" r="5.2"/><circle cx="413.3" cy="654.3" r="5.2"/><circle cx="424.9" cy="651.2" r="5.2"/><circle cx="444.5" cy="648.2" r="5.2"/><circle cx="469.4" cy="639.4" r="5.2"/><circle cx="485.2" cy="638.3" r="5.2"/><circle cx="497.3" cy="631.8" r="5.2"/><circle cx="510.4" cy="645.1" r="5.2"/><circle cx="520.1" cy="634.7" r="5.2"/><circle cx="527.1" cy="635.4" r="5.2"/><circle cx="538.4" cy="633.5" r="5.2"/><circle cx="547.9" cy="632.5" r="5.2"/><circle cx="561.9" cy="627.2" r="5.2"/><circle cx="581.2" cy="627.7" r="5.2"/><circle cx="597.4" cy="629.4" r="5.2"/><circle cx="614.4" cy="621.6" r="5.2"/><circle cx="625.5" cy="629.9" r="5.2"/><circle cx="640.0" cy="619.2" r="5.2"/><circle cx="655.2" cy="621.6" r="5.2"/><circle cx="675.6" cy="619.7" r="5.2"/><circle cx="694.0" cy="615.2" r="5.2"/><circle cx="701.4" cy="614.2" r="5.2"/><circle cx="709.7" cy="615.4" r="5.2"/><circle cx="720.3" cy="611.6" r="5.2"/><circle cx="738.7" cy="614.2" r="5.2"/><circle cx="754.6" cy="612.4" r="5.2"/><circle cx="779.1" cy="607.3" r="5.2"/><circle cx="790.4" cy="613.7" r="5.2"/><circle cx="808.1" cy="605.3" r="5.2"/><circle cx="821.2" cy="607.3" r="5.2"/><circle cx="835.6" cy="606.1" r="5.2"/><circle cx="843.2" cy="612.9" r="5.2"/><circle cx="858.6" cy="605.3" r="5.2"/><circle cx="873.2" cy="606.8" r="5.2"/><circle cx="888.1" cy="603.1" r="5.2"/><circle cx="904.5" cy="608.6" r="5.2"/></g>
<rect x="170.2" y="493.7" width="776.8" height="429.2" fill="none" stroke="#000" stroke-width="2.7"/>
</g>
<g stroke="#000" stroke-width="2.7" stroke-linecap="round">
<line x1="142.2" y1="450.7" x2="169.6" y2="450.7"/><line x1="142.2" y1="351.4" x2="169.6" y2="351.4"/><line x1="142.2" y1="252.1" x2="169.6" y2="252.1"/><line x1="142.2" y1="152.8" x2="169.6" y2="152.8"/><line x1="142.2" y1="53.5" x2="169.6" y2="53.5"/><line x1="142.2" y1="907.1" x2="169.6" y2="907.1"/><line x1="142.2" y1="818.8" x2="169.6" y2="818.8"/><line x1="142.2" y1="730.5" x2="169.6" y2="730.5"/><line x1="142.2" y1="642.2" x2="169.6" y2="642.2"/><line x1="142.2" y1="553.9" x2="169.6" y2="553.9"/><line x1="198.6" y1="922.9" x2="198.6" y2="950.6"/><line x1="288.6" y1="922.9" x2="288.6" y2="950.6"/><line x1="378.6" y1="922.9" x2="378.6" y2="950.6"/><line x1="468.6" y1="922.9" x2="468.6" y2="950.6"/><line x1="558.6" y1="922.9" x2="558.6" y2="950.6"/><line x1="648.6" y1="922.9" x2="648.6" y2="950.6"/><line x1="738.6" y1="922.9" x2="738.6" y2="950.6"/><line x1="828.6" y1="922.9" x2="828.6" y2="950.6"/><line x1="918.6" y1="922.9" x2="918.6" y2="950.6"/>
</g>
<g font-size="45" fill="#000" text-anchor="middle">
<text transform="translate(198.6,1020.7) scale(1,1.072)">0</text><text transform="translate(288.6,1020.7) scale(1,1.072)">50</text><text transform="translate(468.6,1020.7) scale(1,1.072)">150</text><text transform="translate(648.6,1020.7) scale(1,1.072)">250</text><text transform="translate(828.6,1020.7) scale(1,1.072)">350</text>
</g>
<g font-size="45" fill="#000" text-anchor="middle">
<text transform="translate(105.5,450.7) rotate(-90) scale(1,1.072)">0.0</text><text transform="translate(105.5,252.1) rotate(-90) scale(1,1.072)">0.4</text><text transform="translate(105.5,53.5) rotate(-90) scale(1,1.072)">0.8</text><text transform="translate(105.5,907.1) rotate(-90) scale(1,1.072)">0.2</text><text transform="translate(105.5,730.5) rotate(-90) scale(1,1.072)">0.6</text><text transform="translate(105.5,553.9) rotate(-90) scale(1,1.072)">1.0</text>
</g>
<text x="558" y="1073" font-size="45" text-anchor="middle" fill="#000">influence distance <tspan class="sym" font-size="47">δ</tspan> in kilometres</text>
<text transform="translate(41,253) rotate(-90)" font-size="45" text-anchor="middle" fill="#000"><tspan class="sym" font-size="47">β</tspan><tspan class="sym" font-size="33" dy="9.5">δ</tspan><tspan dy="-9.5"> (number of cities)</tspan></text>
<text transform="translate(41,709.5) rotate(-90)" font-size="45" text-anchor="middle" fill="#000">b<tspan class="sym" font-size="33" dy="9.5">δ</tspan><tspan dy="-9.5"> (population)</tspan></text>
<text x="4.1" y="33.9" font-size="42.3" font-weight="bold" fill="#000">A</text>
<text x="2.1" y="515.9" font-size="42.3" font-weight="bold" fill="#000">B</text>
<text x="558.2" y="319.8" font-size="52.5" fill="#c3334e">observed</text>
<line x1="792.5" y1="301.8" x2="900" y2="301.8" stroke="#c5344f" stroke-width="16.3" stroke-linecap="round"/>
<text x="558.6" y="414.2" font-size="52.4" fill="#2b095c">permuted</text>
<g fill="#330b68"><circle cx="792.1" cy="401.1" r="3.85"/><circle cx="825.8" cy="401.1" r="3.85"/><circle cx="859.4" cy="401.1" r="3.85"/><circle cx="893.2" cy="401.1" r="3.85"/></g>
</svg>
</body></html>
